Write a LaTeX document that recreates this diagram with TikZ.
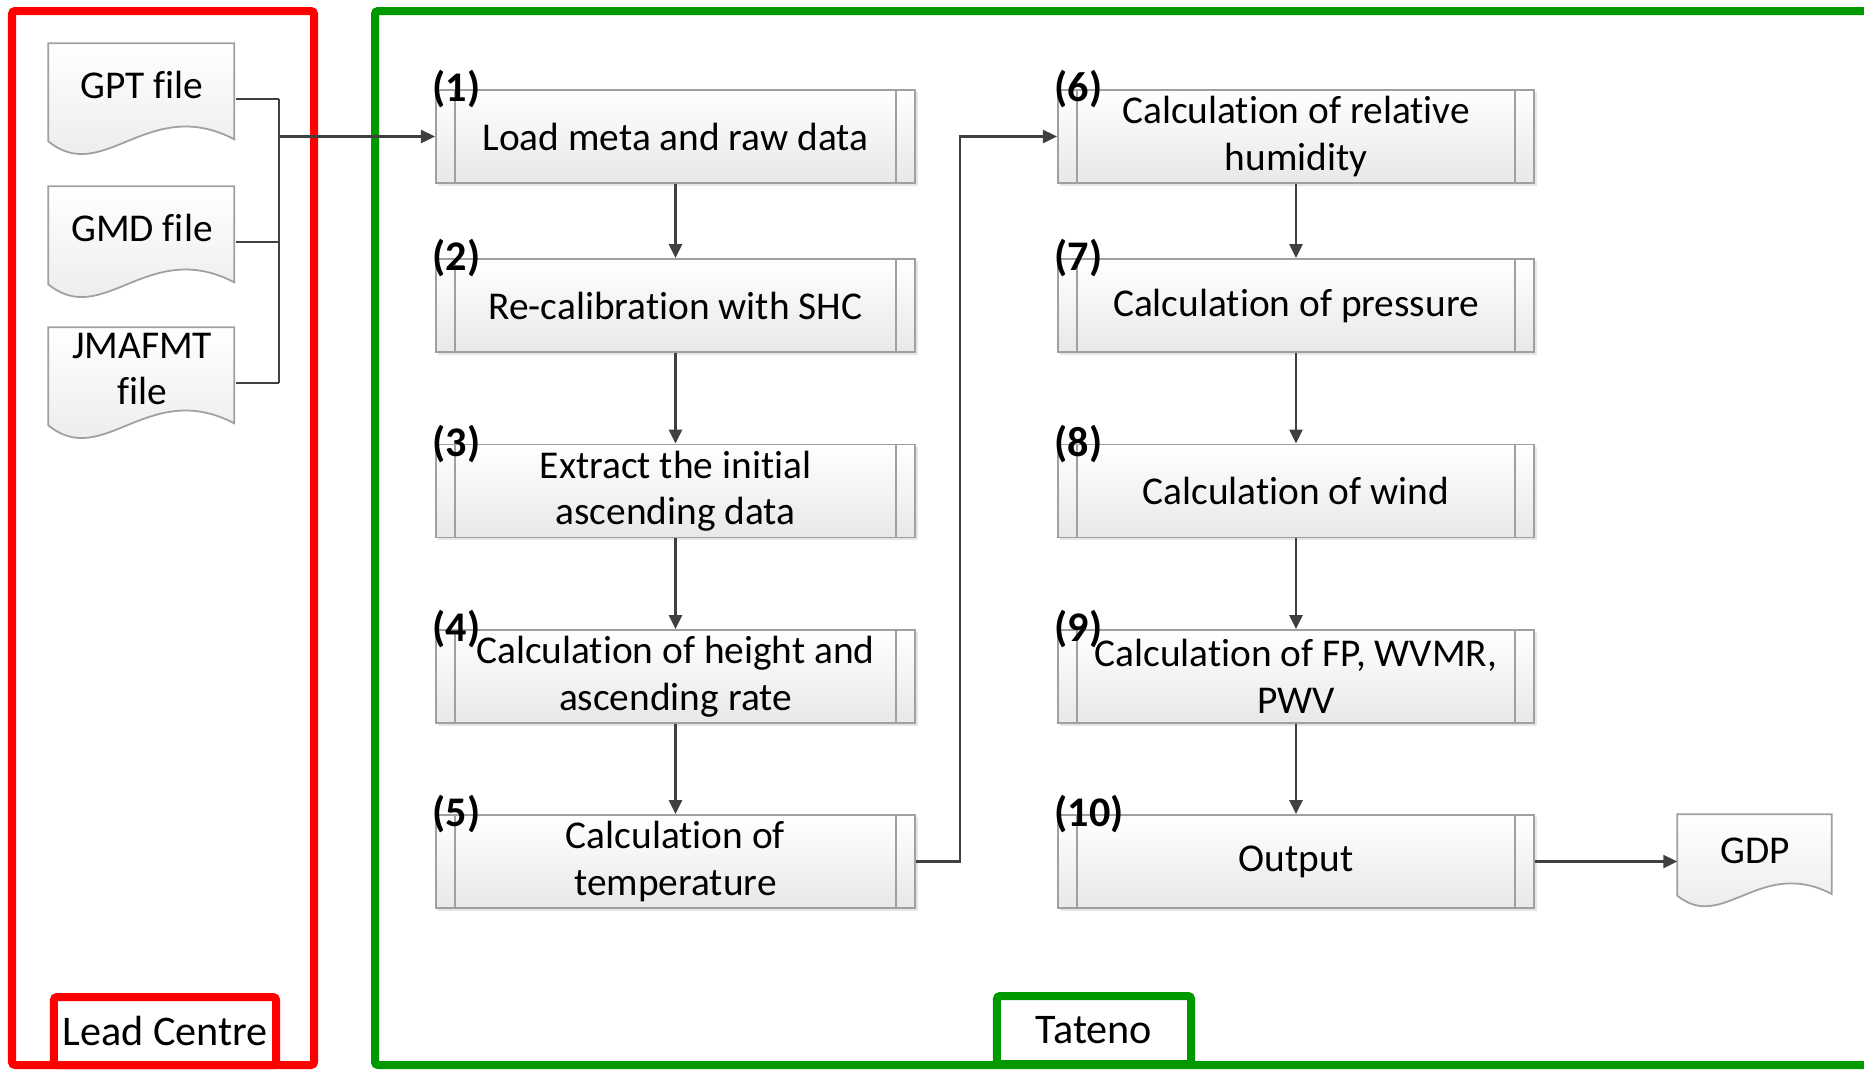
\documentclass[tikz,border=0pt]{standalone}
\usepackage{fontspec}
\setmainfont{Carlito}[Ligatures=NoCommon]
\usetikzlibrary{arrows.meta,backgrounds,shadows}
\definecolor{leadred}{RGB}{255,0,0}
\definecolor{tategreen}{RGB}{0,153,0}
\definecolor{edgegray}{RGB}{160,160,160}
\definecolor{shadegray}{RGB}{232,232,232}
\definecolor{linkgray}{RGB}{64,64,64}
\newcommand{\docshape}[2]{\draw[docline,shift={(#1.north west)},scale=#2] (0,0) -- (186,0) -- (186,96) .. controls (100,51) and (55,143) .. (0,98) -- cycle;}

\begin{document}
\begin{tikzpicture}[x=0.01cm,y=-0.01cm,>={Triangle[length=0.14cm,width=0.13cm]},font=\fontsize{11.2}{13.2}\selectfont,
  procbox/.style={draw=edgegray,line width=0.5pt,top color=white,bottom color=shadegray,minimum width=4.79cm,minimum height=0.93cm,inner sep=0pt,align=center,
    drop shadow={shadow xshift=0.025cm,shadow yshift=-0.025cm,opacity=0.2},
    path picture={\draw[edgegray,line width=0.5pt] ([xshift=0.19cm]path picture bounding box.north west) -- ([xshift=0.19cm]path picture bounding box.south west)
      ([xshift=-0.19cm]path picture bounding box.north east) -- ([xshift=-0.19cm]path picture bounding box.south east);}},
  docfile/.style={minimum width=1.86cm,minimum height=0.82cm,inner sep=0pt,align=center},
  docline/.style={draw=edgegray,line width=0.5pt,top color=white,bottom color=shadegray},
  numlabel/.style={anchor=west,inner sep=0pt,font=\bfseries\fontsize{12}{12}\selectfont},
  link/.style={draw=linkgray,line width=0.7pt},
  tag/.style={line width=0.08cm,fill=white,rounded corners=0.03cm,minimum height=0.68cm,inner sep=0pt,font=\fontsize{12}{14}\selectfont}]
\useasboundingbox (0,0) rectangle (1864,1069); \clip (0,0) rectangle (1864,1069);
\draw[leadred,line width=0.08cm,rounded corners=0.03cm] (12,11) rectangle (314,1065);
\draw[tategreen,line width=0.08cm,rounded corners=0.03cm] (375,11) rectangle (1890,1065);
\node[tag,draw=leadred,minimum width=2.22cm] (lead) at (165,1031) {Lead Centre};
\node[tag,draw=tategreen,minimum width=1.94cm] (tateno) at (1094,1030) {Tateno};

\node[docfile] (gpt) at (142,85) {GPT file};
\node[docfile] (gmd) at (142,228) {GMD file};
\node[docfile] (jma) at (142,369) {JMAFMT\\file};
\node[docfile,minimum width=1.55cm,minimum height=0.72cm] (gdp) at (1755.5,851) {GDP};
\begin{scope}[on background layer]
\foreach \d/\s in {gpt/1,gmd/1,jma/1,gdp/0.83} {\docshape{\d}{\s}}
\end{scope}

\node[procbox] (p1) at (675.5,136.5) {Load meta and raw data};
\node[procbox] (p2) at (675.5,305.5) {Re-calibration with SHC};
\node[procbox] (p3) at (675.5,491) {Extract the initial\\ascending data};
\node[procbox] (p4) at (675.5,676.5) {Calculation of height and\\ascending rate};
\node[procbox] (p5) at (675.5,861.5) {Calculation of\\temperature};
\node[procbox,minimum width=4.76cm] (p6) at (1296,136.5) {Calculation of relative\\humidity};
\node[procbox,minimum width=4.76cm] (p7) at (1296,305.5) {Calculation of pressure};
\node[procbox,minimum width=4.76cm] (p8) at (1296,491) {Calculation of wind};
\node[procbox,minimum width=4.76cm] (p9) at (1296,676.5) {Calculation of FP, WVMR,\\PWV};
\node[procbox,minimum width=4.76cm] (p10) at (1296,861.5) {Output};
\foreach \i in {1,...,10} \node[numlabel] (n\i) at ([xshift=-0.03cm]p\i.north west) {(\i)};

\coordinate (bus) at ([xshift=-1.56cm]p1.west);
\foreach \d in {gpt,gmd,jma} {\coordinate (out\d) at ([yshift=-0.14cm]\d.east); \draw[link] (out\d) -- (out\d -| bus);}
\draw[link] (outgpt -| bus) -- (outjma -| bus); \draw[link,->] (bus) -- (p1.west);
\foreach \a/\b in {p1/p2,p2/p3,p3/p4,p4/p5,p6/p7,p7/p8,p8/p9,p9/p10} \draw[link,->] (\a) -- (\b);
\draw[link,->] (p5.east) -- ++(0.44cm,0) |- (p6.west);
\draw[link,->] (p10) -- (p10 -| gdp.west);
\end{tikzpicture}
\end{document}
